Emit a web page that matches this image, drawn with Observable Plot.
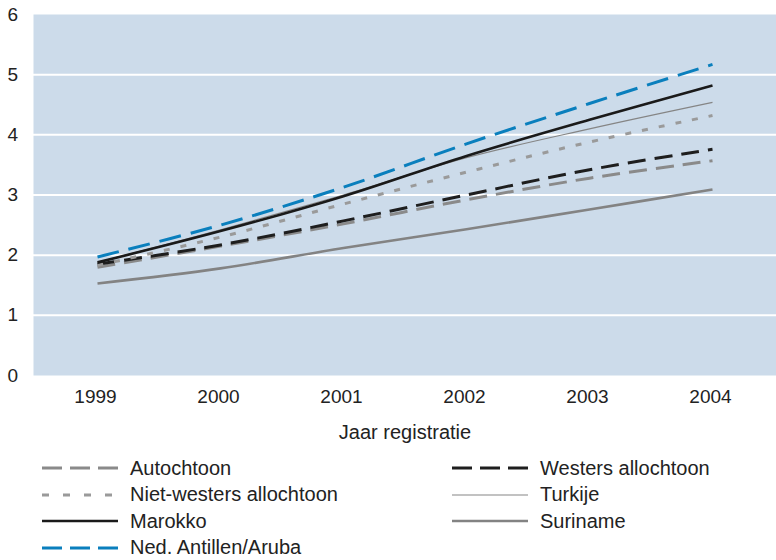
<!DOCTYPE html>
<html>
<head>
<meta charset="utf-8">
<script src="https://cdn.jsdelivr.net/npm/d3@7"></script>
<script src="https://cdn.jsdelivr.net/npm/@observablehq/plot@0.6"></script>
<style>
  body { margin: 0; background: #fff; font-family: "Liberation Sans", Arial, sans-serif; color: #222; }
  #legend { position: relative; width: 776px; height: 106px; font-size: 20px; }
  .item { position: absolute; display: flex; align-items: center; height: 26px; white-space: nowrap; }
  .item svg { margin-right: 12px; }
</style>
</head>
<body>
<div id="chart"></div>
<div id="legend"></div>
<script>
const years = ["1999", "2000", "2001", "2002", "2003", "2004"];
const autochtoon = [1.80, 2.15, 2.52, 2.92, 3.28, 3.57];
const westersAllochtoon = [1.85, 2.17, 2.57, 3.00, 3.42, 3.76];
const nietWesters = [1.83, 2.30, 2.85, 3.38, 3.88, 4.32];
const turkije = [1.88, 2.42, 3.00, 3.62, 4.10, 4.54];
const marokko = [1.88, 2.40, 2.98, 3.65, 4.25, 4.82];
const antillen = [1.97, 2.50, 3.13, 3.85, 4.52, 5.17];
const suriname = [1.53, 1.78, 2.12, 2.43, 2.76, 3.09];
const yTicks = [0, 1, 2, 3, 4, 5, 6];
const xLabel = "Jaar registratie";

const series = [
  {name: "Autochtoon", values: autochtoon, stroke: "#8a8a8a", width: 3, dash: "18,9", col: 0, row: 0},
  {name: "Westers allochtoon", values: westersAllochtoon, stroke: "#1e1e1e", width: 3, dash: "18,9", col: 1, row: 0},
  {name: "Niet-westers allochtoon", values: nietWesters, stroke: "#9a9a9a", width: 3, dash: "6,11", col: 0, row: 1},
  {name: "Turkije", values: turkije, stroke: "#858585", width: 1.2, dash: null, col: 1, row: 1},
  {name: "Marokko", values: marokko, stroke: "#1a1a1a", width: 2.6, dash: null, col: 0, row: 2},
  {name: "Suriname", values: suriname, stroke: "#838383", width: 2.6, dash: null, col: 1, row: 2},
  {name: "Ned. Antillen/Aruba", values: antillen, stroke: "#0a7fbd", width: 3, dash: "22,10", col: 0, row: 3}
];
const drawOrder = ["Suriname", "Autochtoon", "Westers allochtoon", "Niet-westers allochtoon", "Turkije", "Marokko", "Ned. Antillen/Aruba"];
const font = "'Liberation Sans', Arial, sans-serif";

const marks = [
  Plot.frame({fill: "#ccdbea", stroke: null}),
  Plot.gridY([1, 2, 3, 4, 5], {stroke: "#fff", strokeOpacity: 1, strokeWidth: 2}),
  Plot.axisY(yTicks, {tickSize: 0, tickPadding: 26, textAnchor: "start", label: null, tickFormat: d => String(d), fontSize: 19, fill: "#222"}),
  Plot.axisX(years, {tickSize: 0, tickPadding: 14, fontSize: 19, label: null, fill: "#222", dx: -2}),
  Plot.text([xLabel], {frameAnchor: "bottom", dy: 63, fontSize: 20, fill: "#222"})
];
for (const n of drawOrder) {
  const s = series.find(d => d.name === n);
  const data = years.map((y, i) => ({year: y, value: s.values[i]}));
  marks.push(Plot.line(data, {
    x: "year", y: "value", stroke: s.stroke, strokeWidth: s.width,
    strokeDasharray: s.dash, curve: "catmull-rom", strokeLinecap: "butt"
  }));
}

const chart = Plot.plot({
  width: 776,
  height: 450,
  marginTop: 14,
  marginBottom: 75,
  marginLeft: 33,
  marginRight: 0,
  style: {fontFamily: font, background: "#fff"},
  x: {type: "point", domain: years, padding: 0.5},
  y: {domain: [0, 6]},
  marks
});
document.getElementById("chart").appendChild(chart);

const legend = document.getElementById("legend");
for (const s of series) {
  const div = document.createElement("div");
  div.className = "item";
  div.style.left = (s.col === 0 ? 42 : 452) + "px";
  div.style.top = (5 + s.row * 26.5) + "px";
  const svg = d3.create("svg").attr("width", 76).attr("height", 10);
  svg.append("line").attr("x1", 0).attr("x2", 76).attr("y1", 5).attr("y2", 5)
    .attr("stroke", s.stroke).attr("stroke-width", s.width)
    .attr("stroke-dasharray", s.dash ? (s.dash === "6,11" ? "7,14" : "20,8") : null);
  div.appendChild(svg.node());
  const span = document.createElement("span");
  span.textContent = s.name;
  div.appendChild(span);
  legend.appendChild(div);
}
</script>
</body>
</html>
